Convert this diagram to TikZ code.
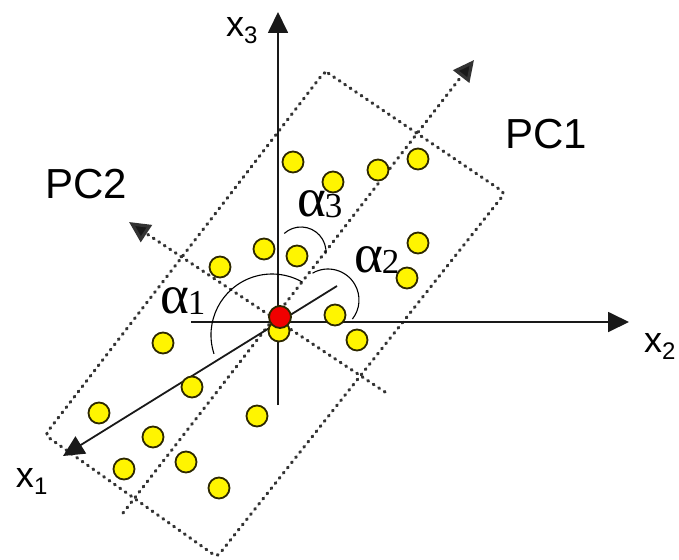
\documentclass[tikz,border=0pt]{standalone}
\usepackage{fontspec}
\setmainfont{Liberation Sans}
\newfontfamily\greekserif{Liberation Serif}
\usetikzlibrary{arrows.meta}
\definecolor{dotedge}{RGB}{45,40,0}
\definecolor{dotfill}{RGB}{255,245,0}
\definecolor{reddot}{RGB}{240,0,0}
\tikzset{
  axis/.style={line width=1.8pt, black!90, -{Triangle[length=21pt,width=20pt]}},
  pcaxis/.style={line width=3.2pt, black!80, line cap=round, dash pattern=on 0.9pt off 5.7pt, -{Triangle[length=21pt,width=20pt,fill=black!90,line cap=butt]}},
  pcbox/.style={line width=3.2pt, black!80, line cap=round, dash pattern=on 0.9pt off 5.7pt, rounded corners=4pt},
  anglearc/.style={line width=1.1pt, black},
  ydot/.style={circle, draw=dotedge, fill=dotfill, line width=1.8pt, minimum size=21pt, inner sep=0pt},
  rdot/.style={circle, draw=dotedge, fill=reddot, line width=1.8pt, minimum size=22pt, inner sep=0pt},
  lbl/.style={anchor=base west, inner sep=0pt, outer sep=0pt},
}
\newcommand{\axlabel}[2]{\fontsize{36}{36}\selectfont #1\raisebox{-7pt}{\fontsize{24}{24}\selectfont #2}}
\newcommand{\anglabel}[1]{{\greekserif\fontsize{55}{55}\selectfont α\kern-1pt\raisebox{-1pt}{\fontsize{35}{35}\selectfont #1}}}
\begin{document}
\begin{tikzpicture}[x=1pt,y=-1pt]
\useasboundingbox (0,0) rectangle (679,559);
% PC box
\coordinate (bt) at (325,71);
\coordinate (br) at (505,193);
\coordinate (bb) at (217,557);
\coordinate (bl) at (45,435);
\draw[pcbox] (bt) -- (br) -- (bb) -- (bl) -- cycle;
% PC axes
\coordinate (pc1s) at (123,513);
\coordinate (pc1e) at (474,60);
\coordinate (pc2s) at (385,392);
\coordinate (pc2e) at (129,222);
\draw[pcaxis] (pc1s) -- (pc1e);
\draw[pcaxis] (pc2s) -- (pc2e);
% coordinate axes
\coordinate (x3s) at (278,405);
\coordinate (x3e) at (278,12);
\coordinate (x2s) at (191,322);
\coordinate (x2e) at (629,322);
\coordinate (x1s) at (337,286);
\coordinate (x1e) at (63,456);
\draw[axis] (x3s) -- (x3e);
\draw[axis] (x2s) -- (x2e);
\draw[axis] (x1s) -- (x1e);
% angle arcs
\coordinate (c1) at (272,335);
\coordinate (c2) at (328,300);
\coordinate (c3) at (301,252);
\draw[anglearc] ([shift={(162:61)}]c1) arc[start angle=162, end angle=300, radius=61];
\draw[anglearc] ([shift={(240:31)}]c2) arc[start angle=240, end angle=398, radius=31];
\draw[anglearc] ([shift={(228:25)}]c3) arc[start angle=228, end angle=365, radius=25];
% data points
\node[ydot] (d1) at (293,162) {};
\node[ydot] (d2) at (333,182) {};
\node[ydot] (d3) at (378,170) {};
\node[ydot] (d4) at (418,159) {};
\node[ydot] (d5) at (264,249) {};
\node[ydot] (d6) at (297,256) {};
\node[ydot] (d7) at (220,267) {};
\node[ydot] (d8) at (418,243) {};
\node[ydot] (d9) at (407,278) {};
\node[ydot] (d10) at (335,315) {};
\node[ydot] (d11) at (357,340) {};
\node[ydot] (d12) at (279,331) {};
\node[ydot] (d13) at (163,343) {};
\node[ydot] (d14) at (192,387) {};
\node[ydot] (d15) at (99,413) {};
\node[ydot] (d16) at (153,437) {};
\node[ydot] (d17) at (257,416) {};
\node[ydot] (d18) at (124,469) {};
\node[ydot] (d19) at (186,462) {};
\node[ydot] (d20) at (219,488) {};
\node[rdot] (o) at (280,317) {};
% labels
\node[lbl] (lx3) at (226,37) {\axlabel{x}{3}};
\node[lbl] (lx2) at (644,352) {\axlabel{x}{2}};
\node[lbl] (lx1) at (16,487) {\axlabel{x}{1}};
\node[lbl] (lpc1) at (505,148) {\fontsize{42}{42}\selectfont PC1};
\node[lbl] (lpc2) at (45,198) {\fontsize{42}{42}\selectfont PC2};
\node[lbl] (la1) at (160,313) {\anglabel{1}};
\node[lbl] (la2) at (354,272) {\anglabel{2}};
\node[lbl] (la3) at (297,216) {\anglabel{3}};
\end{tikzpicture}
\end{document}
